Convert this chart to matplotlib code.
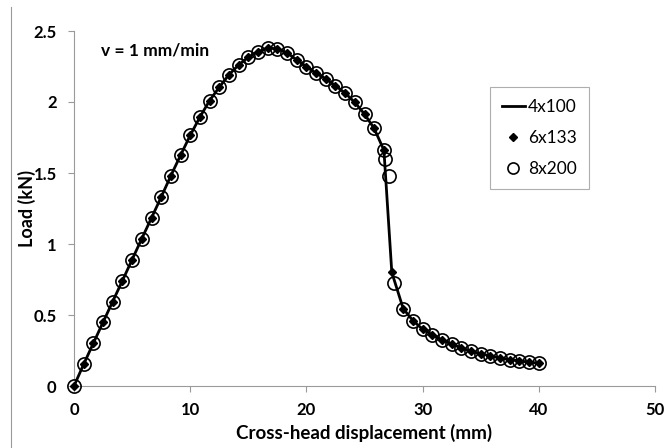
import matplotlib
matplotlib.use("Agg")
import matplotlib.pyplot as plt
from matplotlib.lines import Line2D

# Common curve (every ~0.83 mm)
disp_common = [0, 0.83, 1.67, 2.5, 3.33, 4.17, 5.0, 5.83, 6.67, 7.5, 8.33, 9.17,
               10.0, 10.83, 11.67, 12.5, 13.33, 14.17, 15.0, 15.83, 16.67, 17.5,
               18.33, 19.17, 20.0, 20.83, 21.67, 22.5, 23.33, 24.17, 25.0, 25.83, 26.67]
load_common = [0, 0.153, 0.302, 0.449, 0.595, 0.742, 0.89, 1.037, 1.184, 1.33, 1.48, 1.625,
               1.765, 1.893, 2.01, 2.104, 2.192, 2.261, 2.316, 2.354, 2.38, 2.375,
               2.346, 2.297, 2.249, 2.203, 2.163, 2.115, 2.063, 1.997, 1.915, 1.814, 1.661]
disp_tail = [28.33, 29.17, 30.0, 30.83, 31.67, 32.5, 33.33, 34.17, 35.0, 35.83,
             36.67, 37.5, 38.33, 39.17, 40.0]
load_tail = [0.545, 0.46, 0.40, 0.36, 0.325, 0.295, 0.268, 0.245, 0.227, 0.212,
             0.198, 0.186, 0.177, 0.168, 0.16]

disp_drop_6x133 = [27.35]
load_drop_6x133 = [0.80]
disp_drop_8x200 = [26.8, 27.1, 27.55]
load_drop_8x200 = [1.60, 1.48, 0.725]

disp_4x100 = disp_common + disp_drop_6x133 + disp_tail
load_4x100 = load_common + load_drop_6x133 + load_tail
disp_6x133 = disp_common + disp_drop_6x133 + disp_tail
load_6x133 = load_common + load_drop_6x133 + load_tail
disp_8x200 = disp_common + disp_drop_8x200 + disp_tail
load_8x200 = load_common + load_drop_8x200 + load_tail

x_ticks = [0, 10, 20, 30, 40, 50]
y_ticks = [0, 0.5, 1, 1.5, 2, 2.5]
y_tick_labels = ["0", "0.5", "1", "1.5", "2", "2.5"]

plt.rcParams['font.family'] = ['Lato', 'DejaVu Sans']

fig = plt.figure(figsize=(6.65, 4.48), dpi=100)
ax = fig.add_axes([74/665, 1-386/448, (655-74)/665, (386-31)/448])

ax.plot(disp_4x100, load_4x100, color='black', lw=2.0, zorder=2, clip_on=False)
ax.plot(disp_6x133, load_6x133, ls='none', marker='D', ms=4.5, color='black', zorder=3,
        clip_on=False)
ax.plot(disp_8x200, load_8x200, ls='none', marker='o', ms=9.5, mfc='none', mec='black',
        mew=1.2, zorder=4, clip_on=False)

ax.set_xlim(0, 50)
ax.set_ylim(0, 2.5)
ax.set_xticks(x_ticks)
ax.set_yticks(y_ticks)
ax.set_yticklabels(y_tick_labels)
for lab in ax.get_xticklabels() + ax.get_yticklabels():
    lab.set_fontweight('bold')
    lab.set_fontsize(12)
ax.tick_params(axis='both', direction='out', length=4.5, width=0.8, color='#9a9a9a')
ax.tick_params(axis='x', pad=7)
ax.tick_params(axis='y', pad=8)
for s in ['top', 'right']:
    ax.spines[s].set_visible(False)
for s in ['left', 'bottom']:
    ax.spines[s].set_color('#9a9a9a')
    ax.spines[s].set_linewidth(0.8)

ax.set_xlabel('Cross-head displacement (mm)', fontsize=13.5, fontweight='bold', labelpad=4)
ax.set_ylabel('Load (kN)', fontsize=13, fontweight='bold', labelpad=-2)

ax.text(2.3, 2.36, 'v = 1 mm/min', fontsize=12.5, fontweight='bold', va='center', ha='left')

handles = [Line2D([], [], color='black', lw=2.0),
           Line2D([], [], ls='none', marker='D', ms=4.5, color='black'),
           Line2D([], [], ls='none', marker='o', ms=8, mfc='none', mec='black', mew=1.2)]
leg = ax.legend(handles, ['4x100', '6x133', '8x200'], loc='upper left',
                bbox_to_anchor=((490-74)/581, 1-(87-31)/355), fontsize=12.5,
                frameon=True, fancybox=False, edgecolor='#9a9a9a', handlelength=1.3,
                handletextpad=0.2, labelspacing=0.85, borderpad=0.7, borderaxespad=0)
leg.get_frame().set_linewidth(0.8)

fig.add_artist(Line2D([11/665, 11/665], [0, 1-7/448], color='#9a9a9a', lw=0.8))

fig.savefig('out.png', dpi=100)
